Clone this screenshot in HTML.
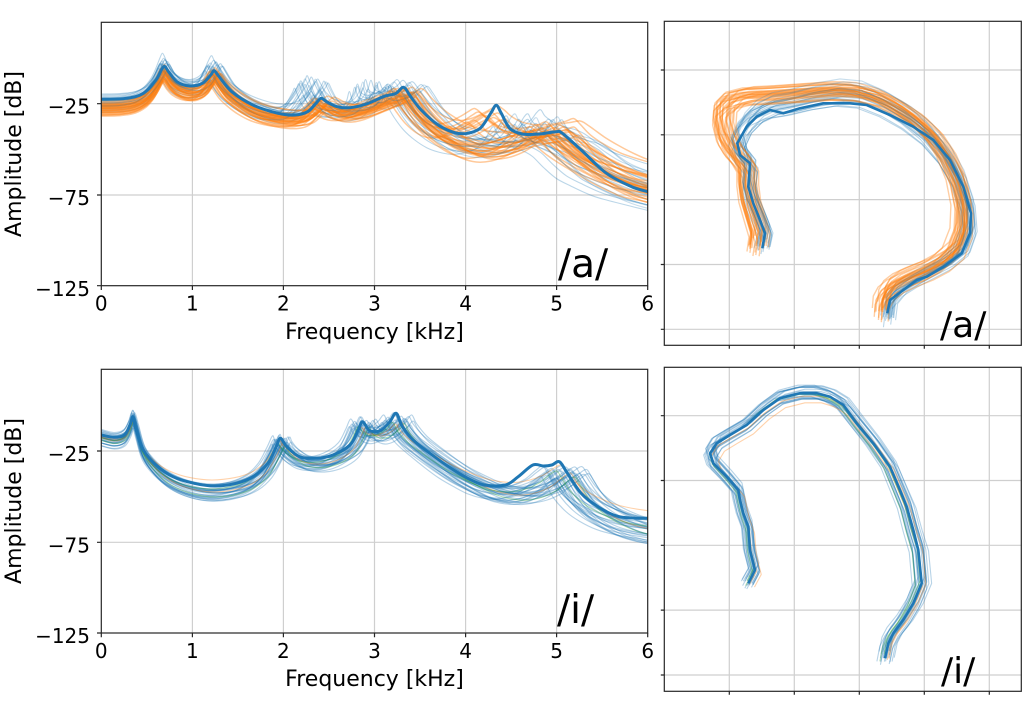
<!DOCTYPE html>
<html><head><meta charset="utf-8"><style>
html,body{margin:0;padding:0;background:#fff;}
svg{display:block;}
text{font-family:"DejaVu Sans","Liberation Sans",sans-serif;fill:#000;}
</style></head><body>
<svg width="1024" height="712" viewBox="0 0 1024 712" xmlns="http://www.w3.org/2000/svg">
<defs>
<clipPath id="cTL"><rect x="101.3" y="22.3" width="546.4" height="263.4"/></clipPath>
<clipPath id="cBL"><rect x="101.3" y="369.3" width="546.4" height="263.7"/></clipPath>
<clipPath id="cTR"><rect x="664.3" y="21.3" width="357" height="324"/></clipPath>
<clipPath id="cBR"><rect x="664.3" y="367.3" width="357" height="324"/></clipPath>
<path id="Oa" class="s" vector-effect="non-scaling-stroke" d="M101.3,103 L120,102.5 135,100 145,95 152,88 157,80 161,72 163.6,68.5 166,71 170,77 176,83 184,87 192,88.5 200,86.5 206,82 210,76 213.5,71.5 216,73 220,79 226,87 235,95 245,102 258,108.5 272,112.5 285,114.5 297,114.5 306,112 313,106 318,101 321,99 325,101 331,105 340,108 350,108.5 362,106 375,101 388,96 397,92.5 403,89 407,92 412,99 420,109 430,119 442,128 455,135 468,139 482,141 495,141 508,138 520,134 532,131 545,128.5 553,127 558,130 566,137 576,146 588,155 600,163 614,171 628,177 640,181 647.7,183 670,188 700,193"/>
<path id="Oa2" class="s" vector-effect="non-scaling-stroke" d="M101.3,103 L120,102.5 135,100 145,95 152,88 157,80 161,72 163.6,68.5 166,71 170,77 176,83 184,87 192,88.5 200,86.5 206,82 210,76 213.5,71.5 216,73 220,79 226,87 235,95 245,102 258,108.5 272,112.5 285,114.5 297,114.5 306,112 313,106 318,101 321,99 325,101 331,105 340,108 350,108.5 362,106 375,101 388,96 397,92.5 403,89 407,93 412,100 422,112 435,122 448,126 460,124 472,118 480,113 486,110 492,114 500,122 510,128 525,131 540,130 552,127 560,124 566,130 576,142 590,153 605,162 620,168 635,173 647.7,177 700,185"/>
<path id="Oa3" class="s" vector-effect="non-scaling-stroke" d="M101.3,103 L120,102.5 135,100 145,95 152,88 157,80 161,72 163.6,68.5 166,71 170,77 176,83 184,87 192,88.5 200,86.5 206,82 210,76 213.5,71.5 216,73 220,79 226,87 235,95 245,102 258,108.5 272,112.5 285,114.5 297,114.5 306,112 313,106 318,101 321,99 325,101 331,105 340,108 350,108.5 362,106 375,101 388,96 397,92.5 403,89 407,93 412,101 422,114 435,127 450,138 465,146 480,150 495,149 510,144 522,137 532,129 538,124 544,128 552,137 562,145 575,153 590,161 605,169 620,176 635,182 647.7,186 700,195"/>
<path id="Ba" class="s" vector-effect="non-scaling-stroke" d="M101.3,100 L120,99.5 135,97 145,92 152,85 157,77 161,69 163.6,65 166,68 170,75 176,81 184,85 192,86 200,84 206,79 210,72 213.5,67 216,70 220,77 226,86 235,94 245,101 258,107 272,111 285,111 295,106 303,96 309,87 311.5,83 315,90 320,99 328,106 340,109 352,108 362,103 368,94 371,86 375,95 385,97 396,92 403,86 408,92 413,100 420,110 430,121 442,130 455,137 468,141 482,143 495,142 508,138 518,130 524,121 528,118 532,125 540,132 550,137 560,140 570,145 582,155 596,165 612,172 630,179 647.7,184 700,195"/>
<path id="Bi" class="s" vector-effect="non-scaling-stroke" d="M101.3,436 L114,439 124,436 129.5,427 133,418 136.5,429 143,451 155,467 170,479 190,487 212,490 235,487 252,480 265,468 274,452 279.5,441 282,445 288,452 300,460 316,462 333,458 348,448 356,434 361,424 366,431 374,434 382,432 390,426 395.5,420 400,428 410,440 425,452 440,463 455,473 470,481 485,488 500,492 515,493 530,490 543,484 553,476 561,471 566,478 575,492 588,505 602,514 620,522 640,527 660,530 700,536"/>
<path id="Otr" vector-effect="non-scaling-stroke" d="M756,246 L758,232 753,215 748,198 746,182 746,168 740,158 733,150 726,138 722,122 723,108 732,99 748,95 770,94 800,92 830,90 855,91 878,97 898,107 918,121 935,138 948,158 958,182 963,207 962,230 954,250 940,262 925,270 910,276 897,282 888,289 883,298 882,310"/>
<path id="Btr" vector-effect="non-scaling-stroke" d="M763,247 L766,233 760,218 753,202 749,186 751,168 742,157 738,143 745,128 757,116 772,109 790,106 815,100 840,96 862,98 884,107 906,120 926,136 943,156 957,180 966,207 968,232 961,252 945,265 928,274 913,282 899,291 890,302 888,318"/>
<path id="Bbr" vector-effect="non-scaling-stroke" d="M748,583 L755,570 750,550 748,527 743,513 740,500 738,490 727,477 714,463 711,453 717,443 730,435 747,425 763,410 780,398 800,393 817,393 830,397 843,405 857,423 873,443 889,466 899,490 906,507 912,530 918,550 921,583 913,603 903,620 893,633 888,643 885,658"/>
</defs>

<rect x="0" y="0" width="1024" height="712" fill="#fff"/>

<!-- ============ GRIDS ============ -->
<g stroke="#cfcfcf" stroke-width="1.2" fill="none">
  <path d="M192.4,22.3V285.7 M283.4,22.3V285.7 M374.5,22.3V285.7 M465.6,22.3V285.7 M556.6,22.3V285.7 M101.3,103.7H647.7 M101.3,195H647.7"/>
  <path d="M192.4,369.3V633 M283.4,369.3V633 M374.5,369.3V633 M465.6,369.3V633 M556.6,369.3V633 M101.3,451H647.7 M101.3,542.3H647.7"/>
  <path d="M729.3,21.3V345.3 M794.3,21.3V345.3 M859.3,21.3V345.3 M924.3,21.3V345.3 M989.3,21.3V345.3 M664.3,70H1021.3 M664.3,134.8H1021.3 M664.3,199.6H1021.3 M664.3,264.5H1021.3 M664.3,329.3H1021.3"/>
  <path d="M729.3,367.3V691.3 M794.3,367.3V691.3 M859.3,367.3V691.3 M924.3,367.3V691.3 M989.3,367.3V691.3 M664.3,415.7H1021.3 M664.3,480.5H1021.3 M664.3,545.3H1021.3 M664.3,610.1H1021.3 M664.3,675H1021.3"/>
</g>

<!-- ============ TOP-LEFT DATA ============ -->
<g clip-path="url(#cTL)" fill="none" stroke-linejoin="round">
  <g stroke="#1f77b4" stroke-width="1.1" stroke-opacity="0.3">
    <use href="#Ba" transform="translate(101.3 98) scale(0.95 1.0) translate(-101.3 -100)"/>
    <use href="#Ba" transform="translate(101.3 104) scale(0.97 1.15) translate(-101.3 -100)"/>
    <use href="#Ba" transform="translate(101.3 108) scale(0.99 0.9) translate(-101.3 -100)"/>
    <use href="#Ba" transform="translate(101.3 95) scale(1.0 1.05) translate(-101.3 -100)"/>
    <use href="#Ba" transform="translate(101.3 102) scale(1.02 1.2) translate(-101.3 -100)"/>
    <use href="#Ba" transform="translate(101.3 106) scale(1.04 0.95) translate(-101.3 -100)"/>
    <use href="#Ba" transform="translate(101.3 100) scale(1.06 1.1) translate(-101.3 -100)"/>
    <use href="#Ba" transform="translate(101.3 110) scale(0.96 0.85) translate(-101.3 -100)"/>
    <use href="#Ba" transform="translate(101.3 112) scale(1.01 1.0) translate(-101.3 -100)"/>
    <use href="#Ba" transform="translate(101.3 97) scale(0.98 1.25) translate(-101.3 -100)"/>
    <use href="#Ba" transform="translate(101.3 94) scale(1.03 0.88) translate(-101.3 -100)"/>
    <use href="#Ba" transform="translate(101.3 109) scale(1.05 1.02) translate(-101.3 -100)"/>
    <use href="#Ba" transform="translate(101.3 103) scale(0.94 1.12) translate(-101.3 -100)"/>
    <use href="#Ba" transform="translate(101.3 105) scale(1.0 0.8) translate(-101.3 -100)"/>
    <use href="#Ba" transform="translate(101.3 101) scale(1.08 1.05) translate(-101.3 -100)"/>
    <use href="#Ba" transform="translate(101.3 107) scale(0.92 1.1) translate(-101.3 -100)"/>
  </g>
  <g stroke="#ff7f0e" stroke-width="1.5" stroke-opacity="0.42">
    <use href="#Oa" transform="translate(101.3 103) scale(0.97 1.0) translate(-101.3 -100)"/>
    <use href="#Oa" transform="translate(101.3 106) scale(0.99 1.08) translate(-101.3 -100)"/>
    <use href="#Oa" transform="translate(101.3 109) scale(1.0 0.95) translate(-101.3 -100)"/>
    <use href="#Oa" transform="translate(101.3 102) scale(1.01 1.12) translate(-101.3 -100)"/>
    <use href="#Oa" transform="translate(101.3 111) scale(1.02 1.0) translate(-101.3 -100)"/>
    <use href="#Oa" transform="translate(101.3 105) scale(1.03 0.92) translate(-101.3 -100)"/>
    <use href="#Oa" transform="translate(101.3 100) scale(0.98 1.05) translate(-101.3 -100)"/>
    <use href="#Oa" transform="translate(101.3 107) scale(1.0 1.15) translate(-101.3 -100)"/>
    <use href="#Oa" transform="translate(101.3 104) scale(1.04 1.04) translate(-101.3 -100)"/>
    <use href="#Oa" transform="translate(101.3 108) scale(0.96 0.9) translate(-101.3 -100)"/>
    <use href="#Oa2" transform="translate(101.3 102) scale(0.98 1.0) translate(-101.3 -100)"/>
    <use href="#Oa2" transform="translate(101.3 105) scale(1.0 1.08) translate(-101.3 -100)"/>
    <use href="#Oa2" transform="translate(101.3 108) scale(1.02 0.95) translate(-101.3 -100)"/>
    <use href="#Oa2" transform="translate(101.3 100) scale(1.01 1.12) translate(-101.3 -100)"/>
    <use href="#Oa2" transform="translate(101.3 110) scale(0.97 1.04) translate(-101.3 -100)"/>
    <use href="#Oa2" transform="translate(101.3 103) scale(1.03 1.0) translate(-101.3 -100)"/>
    <use href="#Oa2" transform="translate(101.3 106) scale(0.99 0.9) translate(-101.3 -100)"/>
    <use href="#Oa2" transform="translate(101.3 109) scale(1.04 1.1) translate(-101.3 -100)"/>
    <use href="#Oa2" transform="translate(101.3 97) scale(1.03 0.9) translate(-101.3 -100)"/>
    <use href="#Oa2" transform="translate(101.3 99) scale(0.97 0.95) translate(-101.3 -100)"/>
    <use href="#Oa" transform="translate(101.3 98) scale(1.06 0.85) translate(-101.3 -100)"/>
    <use href="#Oa3" transform="translate(101.3 104) scale(0.98 0.95) translate(-101.3 -100)"/>
    <use href="#Oa3" transform="translate(101.3 101) scale(1.0 1.05) translate(-101.3 -100)"/>
    <use href="#Oa3" transform="translate(101.3 107) scale(1.02 1.0) translate(-101.3 -100)"/>
    <use href="#Oa3" transform="translate(101.3 103) scale(0.96 1.1) translate(-101.3 -100)"/>
    <use href="#Oa3" transform="translate(101.3 110) scale(1.01 0.9) translate(-101.3 -100)"/>
    <use href="#Oa3" transform="translate(101.3 105) scale(1.03 1.08) translate(-101.3 -100)"/>
    <use href="#Oa3" transform="translate(101.3 112) scale(0.99 1.0) translate(-101.3 -100)"/>
    <use href="#Oa3" transform="translate(101.3 102) scale(1.05 0.97) translate(-101.3 -100)"/>
    <use href="#Oa" transform="translate(101.3 113) scale(1.01 1.06) translate(-101.3 -100)"/>
    <use href="#Oa2" transform="translate(101.3 112) scale(0.95 1.0) translate(-101.3 -100)"/>
  </g>
  <g stroke="#1f77b4" stroke-width="1.1" stroke-opacity="0.25">
    <use href="#Ba" transform="translate(101.3 96) scale(0.97 1.0) translate(-101.3 -100)"/>
    <use href="#Ba" transform="translate(101.3 98) scale(1.02 1.1) translate(-101.3 -100)"/>
    <use href="#Ba" transform="translate(101.3 103) scale(1.05 0.9) translate(-101.3 -100)"/>
    <use href="#Ba" transform="translate(101.3 106) scale(0.99 1.2) translate(-101.3 -100)"/>
    <use href="#Ba" transform="translate(101.3 99) scale(1.07 1.0) translate(-101.3 -100)"/>
    <use href="#Ba" transform="translate(101.3 101) scale(0.95 1.05) translate(-101.3 -100)"/>
  </g>
  <path class="s" fill="none" stroke="#1f77b4" stroke-width="3" d="M101.3,99.3 L126.6,98.3 143.4,93.3 156,80 163.6,66.7 168.6,71.7 177,81.7 189.7,86 202.3,83.3 210.8,75 214.1,70.7 219.2,76.7 231.8,91.7 252.9,105 278.1,113.3 295,115 307.6,111.7 316,103.3 321.1,98.3 326.5,101.7 337.1,106.7 349.7,107.7 366.5,104 383.4,96.7 396,93.3 403.6,87.3 410.7,96.7 421.2,110 438.1,125 454.9,132.7 467.5,133.3 480.2,128.3 490.7,113.3 496.2,105.3 501.3,113.3 509.7,128.3 522.3,134 539.2,134 556,131.7 562.3,133.3 581.2,150 606.5,173.3 631.7,186.7 647.7,191.7"/>
</g>

<!-- ============ BOTTOM-LEFT DATA ============ -->
<g clip-path="url(#cBL)" fill="none" stroke-linejoin="round">
  <g stroke="#1f77b4" stroke-width="1.15" stroke-opacity="0.32">
    <use href="#Bi" transform="translate(101.3 450) scale(1.0 1.0) translate(-101.3 -450)"/>
    <use href="#Bi" transform="translate(101.3 453) scale(0.97 1.05) translate(-101.3 -450)"/>
    <use href="#Bi" transform="translate(101.3 447) scale(1.03 0.95) translate(-101.3 -450)"/>
    <use href="#Bi" transform="translate(101.3 455) scale(0.99 1.1) translate(-101.3 -450)"/>
    <use href="#Bi" transform="translate(101.3 448) scale(1.01 0.9) translate(-101.3 -450)"/>
    <use href="#Bi" transform="translate(101.3 452) scale(1.04 1.02) translate(-101.3 -450)"/>
    <use href="#Bi" transform="translate(101.3 445) scale(0.96 1.0) translate(-101.3 -450)"/>
    <use href="#Bi" transform="translate(101.3 458) scale(1.02 1.08) translate(-101.3 -450)"/>
    <use href="#Bi" transform="translate(101.3 450) scale(0.98 0.88) translate(-101.3 -450)"/>
    <use href="#Bi" transform="translate(101.3 454) scale(1.05 0.97) translate(-101.3 -450)"/>
    <use href="#Bi" transform="translate(101.3 446) scale(0.995 1.12) translate(-101.3 -450)"/>
    <use href="#Bi" transform="translate(101.3 456) scale(1.015 0.93) translate(-101.3 -450)"/>
    <use href="#Bi" transform="translate(101.3 449) scale(0.975 1.06) translate(-101.3 -450)"/>
    <use href="#Bi" transform="translate(101.3 451) scale(1.025 1.0) translate(-101.3 -450)"/>
    <use href="#Bi" transform="translate(101.3 444) scale(1.0 1.04) translate(-101.3 -450)"/>
    <use href="#Bi" transform="translate(101.3 459) scale(0.985 0.96) translate(-101.3 -450)"/>
    <use href="#Bi" transform="translate(101.3 452) scale(1.035 1.1) translate(-101.3 -450)"/>
    <use href="#Bi" transform="translate(101.3 448) scale(0.965 0.92) translate(-101.3 -450)"/>
    <use href="#Bi" transform="translate(101.3 453) scale(1.01 1.15) translate(-101.3 -450)"/>
    <use href="#Bi" transform="translate(101.3 446) scale(1.045 0.98) translate(-101.3 -450)"/>
    <use href="#Bi" transform="translate(101.3 457) scale(0.99 1.0) translate(-101.3 -450)"/>
    <use href="#Bi" transform="translate(101.3 450) scale(1.02 0.9) translate(-101.3 -450)"/>
    <use href="#Bi" transform="translate(101.3 454) scale(0.955 1.05) translate(-101.3 -450)"/>
    <use href="#Bi" transform="translate(101.3 447) scale(1.055 1.07) translate(-101.3 -450)"/>
    <use href="#Bi" transform="translate(101.3 451) scale(1.0 1.18) translate(-101.3 -450)"/>
    <use href="#Bi" transform="translate(101.3 455) scale(1.03 0.86) translate(-101.3 -450)"/>
    <use href="#Bi" transform="translate(101.3 449) scale(0.98 1.0) translate(-101.3 -450)"/>
    <use href="#Bi" transform="translate(101.3 452) scale(1.06 1.03) translate(-101.3 -450)"/>
    <use href="#Bi" transform="translate(101.3 456) scale(1.0 1.12) translate(-101.3 -450)"/>
    <use href="#Bi" transform="translate(101.3 448) scale(1.02 1.06) translate(-101.3 -450)"/>
    <use href="#Bi" transform="translate(101.3 453) scale(0.97 0.94) translate(-101.3 -450)"/>
    <use href="#Bi" transform="translate(101.3 460) scale(1.04 1.0) translate(-101.3 -450)"/>
  </g>
  <g stroke="#ff7f0e" stroke-width="1.1" stroke-opacity="0.35">
    <use href="#Bi" transform="translate(101.3 448) scale(1.0 0.8) translate(-101.3 -450)"/>
    <use href="#Bi" transform="translate(101.3 452) scale(1.02 1.0) translate(-101.3 -450)"/>
  </g>
  <g stroke="#2ca02c" stroke-width="1.1" stroke-opacity="0.35">
    <use href="#Bi" transform="translate(101.3 451) scale(0.99 0.95) translate(-101.3 -450)"/>
    <use href="#Bi" transform="translate(101.3 455) scale(1.03 1.05) translate(-101.3 -450)"/>
  </g>
  <path class="s" fill="none" stroke="#1f77b4" stroke-width="3" d="M101.3,435 L113.9,437.3 124.5,435 130,425 133,416.7 135.8,428.3 143.4,450 156,465 172.9,476.7 194,483.3 215,486 236.2,483.3 253,476.7 267.8,463.3 276.2,446.7 280.4,438.3 286.7,446.7 299.4,456.7 316.2,458.3 333,455 349.9,445 358.3,430 362.5,421.7 368.8,430 375.1,431.7 381.5,430 389.9,421.7 396.2,413.3 402.5,426.7 413.1,440 429.9,453.3 451,468.3 467.8,478.3 484.4,485 505.5,485 518.2,476.7 532.9,465 543.4,466 551.8,465 559.4,461.7 566.5,471.7 581.2,493.3 598,506.7 619.1,516.7 647.7,518.3"/>
</g>

<!-- ============ TOP-RIGHT DATA ============ -->
<g clip-path="url(#cTR)" fill="none" stroke-linejoin="round">
  <g stroke="#1f77b4" stroke-width="1.1" stroke-opacity="0.3">
    <use href="#Btr" transform="translate(860 180) scale(1.0 1.0) translate(-860 -180)"/>
    <use href="#Btr" transform="translate(863 184) scale(0.97 0.98) translate(-860 -180)"/>
    <use href="#Btr" transform="translate(857 176) scale(1.03 1.02) translate(-860 -180)"/>
    <use href="#Btr" transform="translate(864 175) scale(1.02 0.97) translate(-860 -180)"/>
    <use href="#Btr" transform="translate(856 185) scale(0.98 1.03) translate(-860 -180)"/>
    <use href="#Btr" transform="translate(860 177) scale(1.04 1.04) translate(-860 -180)"/>
    <use href="#Btr" transform="translate(862 183) scale(0.96 0.96) translate(-860 -180)"/>
    <use href="#Btr" transform="translate(865 173) scale(1.0 1.05) translate(-860 -180)"/>
    <use href="#Btr" transform="translate(855 186) scale(1.01 0.95) translate(-860 -180)"/>
    <use href="#Btr" transform="translate(866 180) scale(0.99 1.0) translate(-860 -180)"/>
    <use href="#Btr" transform="translate(854 182) scale(1.03 0.99) translate(-860 -180)"/>
    <use href="#Btr" transform="translate(860 174) scale(0.97 1.02) translate(-860 -180)"/>
    <use href="#Btr" transform="translate(862 179) scale(1.05 1.0) translate(-860 -180)"/>
    <use href="#Btr" transform="translate(858 187) scale(0.98 0.97) translate(-860 -180)"/>
    <use href="#Btr" transform="translate(867 178) scale(1.02 1.03) translate(-860 -180)"/>
    <use href="#Btr" transform="translate(853 176) scale(0.99 1.01) translate(-860 -180)"/>
    <use href="#Btr" transform="translate(861 181) scale(1.06 1.04) translate(-860 -180)"/>
    <use href="#Btr" transform="translate(859 172) scale(0.95 1.0) translate(-860 -180)"/>
  </g>
  <g stroke="#ff7f0e" stroke-width="1.4" stroke-opacity="0.38">
    <use href="#Otr" transform="translate(860 170) scale(1 1) translate(-860 -170)"/>
    <use href="#Otr" transform="translate(864 174) scale(0.97 0.97) translate(-860 -170)"/>
    <use href="#Otr" transform="translate(856 167) scale(1.03 1.03) translate(-860 -170)"/>
    <use href="#Otr" transform="translate(863 165) scale(1.02 0.98) translate(-860 -170)"/>
    <use href="#Otr" transform="translate(857 175) scale(0.98 1.02) translate(-860 -170)"/>
    <use href="#Otr" transform="translate(860 172) scale(1.04 1.0) translate(-860 -170)"/>
    <use href="#Otr" transform="translate(866 170) scale(0.96 1.0) translate(-860 -170)"/>
    <use href="#Otr" transform="translate(854 166) scale(1.0 1.04) translate(-860 -170)"/>
    <use href="#Otr" transform="translate(864 177) scale(1.01 0.96) translate(-860 -170)"/>
    <use href="#Otr" transform="translate(853 171) scale(0.99 1.01) translate(-860 -170)"/>
    <use href="#Otr" transform="translate(862 162) scale(1.03 0.97) translate(-860 -170)"/>
    <use href="#Otr" transform="translate(860 178) scale(0.97 1.03) translate(-860 -170)"/>
    <use href="#Otr" transform="translate(858 169) scale(1.05 1.02) translate(-860 -170)"/>
    <use href="#Otr" transform="translate(867 173) scale(0.95 0.98) translate(-860 -170)"/>
    <use href="#Otr" transform="translate(856 173) scale(1.02 1.05) translate(-860 -170)"/>
    <use href="#Otr" transform="translate(862 167) scale(0.98 0.95) translate(-860 -170)"/>
    <use href="#Otr" transform="translate(868 166) scale(1.0 0.98) translate(-860 -170)"/>
    <use href="#Otr" transform="translate(852 174) scale(1.01 1.02) translate(-860 -170)"/>
    <use href="#Otr" transform="translate(861 164) scale(0.96 1.03) translate(-860 -170)"/>
    <use href="#Otr" transform="translate(858 176) scale(1.04 0.96) translate(-860 -170)"/>
    <use href="#Otr" transform="translate(864 169) scale(1.0 1.0) translate(-860 -170)"/>
    <use href="#Otr" transform="translate(856 163) scale(0.99 0.99) translate(-860 -170)"/>
    <use href="#Otr" transform="translate(859 180) scale(1.02 1.0) translate(-860 -170)"/>
    <use href="#Otr" transform="translate(865 176) scale(1.05 1.04) translate(-860 -170)"/>
    <use href="#Otr" transform="translate(851 168) scale(0.97 1.0) translate(-860 -170)"/>
    <use href="#Otr" transform="translate(862 172) scale(0.94 0.97) translate(-860 -170)"/>
  </g>
  <g stroke="#1f77b4" stroke-width="1.1" stroke-opacity="0.25">
    <use href="#Btr" transform="translate(861 181) scale(1.01 1.0) translate(-860 -180)"/>
    <use href="#Btr" transform="translate(858 178) scale(1.03 1.02) translate(-860 -180)"/>
    <use href="#Btr" transform="translate(863 183) scale(0.99 0.98) translate(-860 -180)"/>
    <use href="#Btr" transform="translate(859 176) scale(1.05 1.04) translate(-860 -180)"/>
    <use href="#Btr" transform="translate(860 168) scale(1.0 1.06) translate(-860 -180)"/>
    <use href="#Btr" transform="translate(864 170) scale(1.03 1.05) translate(-860 -180)"/>
    <use href="#Btr" transform="translate(857 171) scale(0.98 1.04) translate(-860 -180)"/>
  </g>
  <path fill="none" stroke="#1f77b4" stroke-width="2.6" d="M762.3,248.3 L765,233.3 760,220 753.3,203.3 748.3,186.7 750,163.3 740,155 737.3,143.3 746.7,126.7 756.7,116.7 770,110 783.3,113.3 800,108.3 823.3,103.3 850,103.3 866.7,105 890,115 913.3,126.7 933.3,140 950,160 963.3,186.7 971,213.3 970,233.3 961.7,253.3 943.3,266.7 926.7,276.7 916.7,280 903.3,290 890,300 887.3,313.3"/>
</g>

<!-- ============ BOTTOM-RIGHT DATA ============ -->
<g clip-path="url(#cBR)" fill="none" stroke-linejoin="round">
  <g stroke="#1f77b4" stroke-width="1.1" stroke-opacity="0.32">
    <use href="#Bbr" transform="translate(830 520) scale(1 1) translate(-830 -520)"/>
    <use href="#Bbr" transform="translate(833 523) scale(0.98 0.98) translate(-830 -520)"/>
    <use href="#Bbr" transform="translate(827 517) scale(1.02 1.02) translate(-830 -520)"/>
    <use href="#Bbr" transform="translate(834 516) scale(1.01 0.98) translate(-830 -520)"/>
    <use href="#Bbr" transform="translate(826 524) scale(0.99 1.02) translate(-830 -520)"/>
    <use href="#Bbr" transform="translate(830 515) scale(1.03 1.01) translate(-830 -520)"/>
    <use href="#Bbr" transform="translate(831 525) scale(0.97 0.99) translate(-830 -520)"/>
    <use href="#Bbr" transform="translate(835 520) scale(1.0 1.03) translate(-830 -520)"/>
    <use href="#Bbr" transform="translate(825 520) scale(1.02 0.97) translate(-830 -520)"/>
    <use href="#Bbr" transform="translate(829 514) scale(0.98 1.0) translate(-830 -520)"/>
    <use href="#Bbr" transform="translate(832 526) scale(1.04 1.0) translate(-830 -520)"/>
    <use href="#Bbr" transform="translate(828 521) scale(0.96 1.02) translate(-830 -520)"/>
    <use href="#Bbr" transform="translate(836 518) scale(1.02 1.04) translate(-830 -520)"/>
    <use href="#Bbr" transform="translate(824 519) scale(1.0 0.96) translate(-830 -520)"/>
    <use href="#Bbr" transform="translate(831 517) scale(1.05 1.02) translate(-830 -520)"/>
    <use href="#Bbr" transform="translate(829 523) scale(0.99 0.98) translate(-830 -520)"/>
    <use href="#Bbr" transform="translate(833 521) scale(1.03 0.97) translate(-830 -520)"/>
    <use href="#Bbr" transform="translate(827 516) scale(0.97 1.03) translate(-830 -520)"/>
    <use href="#Bbr" transform="translate(830 522) scale(1.01 1.01) translate(-830 -520)"/>
    <use href="#Bbr" transform="translate(837 521) scale(1.04 0.99) translate(-830 -520)"/>
    <use href="#Bbr" transform="translate(823 522) scale(0.98 1.01) translate(-830 -520)"/>
    <use href="#Bbr" transform="translate(834 513) scale(1.0 1.0) translate(-830 -520)"/>
  </g>
  <g stroke="#ff7f0e" stroke-width="1.1" stroke-opacity="0.35">
    <use href="#Bbr" transform="translate(834 526) scale(0.97 0.97) translate(-830 -520)"/>
    <use href="#Bbr" transform="translate(833 522) scale(1.02 0.99) translate(-830 -520)"/>
  </g>
  <g stroke="#2ca02c" stroke-width="1.1" stroke-opacity="0.35">
    <use href="#Bbr" transform="translate(826 522) scale(0.98 1.01) translate(-830 -520)"/>
    <use href="#Bbr" transform="translate(829 519) scale(1.0 0.98) translate(-830 -520)"/>
  </g>
  <path fill="none" stroke="#1f77b4" stroke-width="2.6" d="M748.3,583.3 L755,570 750,550 748.3,526.7 743.3,513.3 740,500 738.3,490 726.7,476.7 713.3,463.3 710,453.3 716.7,443.3 730,435 746.7,425 763.3,410 780,398.3 800,393.3 816.7,393.3 830,396.7 843.3,405 856.7,423.3 873.3,443.3 890,466.7 900,490 906.7,506.7 913.3,530 918.3,550 921.7,583.3 913.3,603.3 903.3,620 893.3,633.3 888.3,643.3 885,658.3"/>
</g>

<!-- ============ FRAMES & TICKS ============ -->
<g fill="none" stroke="#262626" stroke-width="1.2">
  <rect x="101.3" y="22.3" width="546.4" height="263.4"/>
  <rect x="101.3" y="369.3" width="546.4" height="263.7"/>
  <rect x="664.3" y="21.3" width="357" height="324"/>
  <rect x="664.3" y="367.3" width="357" height="324"/>
  <path d="M97,103.7H101.3 M97,195H101.3 M97,285.7H101.3 M101.3,285.7V290 M192.4,285.7V290 M283.4,285.7V290 M374.5,285.7V290 M465.6,285.7V290 M556.6,285.7V290 M647.7,285.7V290"/>
  <path d="M97,451H101.3 M97,542.3H101.3 M97,633H101.3 M101.3,633V637.3 M192.4,633V637.3 M283.4,633V637.3 M374.5,633V637.3 M465.6,633V637.3 M556.6,633V637.3 M647.7,633V637.3"/>
  <path d="M660.8,70H664.3 M660.8,134.8H664.3 M660.8,199.6H664.3 M660.8,264.5H664.3 M660.8,329.3H664.3 M729.3,345.3V348.8 M794.3,345.3V348.8 M859.3,345.3V348.8 M924.3,345.3V348.8 M989.3,345.3V348.8"/>
  <path d="M660.8,415.7H664.3 M660.8,480.5H664.3 M660.8,545.3H664.3 M660.8,610.1H664.3 M660.8,675H664.3 M729.3,691.3V694.8 M794.3,691.3V694.8 M859.3,691.3V694.8 M924.3,691.3V694.8 M989.3,691.3V694.8"/>
</g>

<!-- ============ TEXT ============ -->
<g font-size="20" text-anchor="end">
  <text x="90" y="113.7">−25</text>
  <text x="90" y="205">−75</text>
  <text x="90" y="296">−125</text>
  <text x="90" y="461">−25</text>
  <text x="90" y="552.3">−75</text>
  <text x="90" y="643">−125</text>
</g>
<g font-size="20" text-anchor="middle">
  <text x="101.3" y="310.7">0</text>
  <text x="192.4" y="310.7">1</text>
  <text x="283.4" y="310.7">2</text>
  <text x="374.5" y="310.7">3</text>
  <text x="465.6" y="310.7">4</text>
  <text x="556.6" y="310.7">5</text>
  <text x="647.7" y="310.7">6</text>
  <text x="101.3" y="658">0</text>
  <text x="192.4" y="658">1</text>
  <text x="283.4" y="658">2</text>
  <text x="374.5" y="658">3</text>
  <text x="465.6" y="658">4</text>
  <text x="556.6" y="658">5</text>
  <text x="647.7" y="658">6</text>
</g>
<g font-size="22" text-anchor="middle">
  <text x="374.5" y="339">Frequency [kHz]</text>
  <text x="374.5" y="686">Frequency [kHz]</text>
  <text transform="translate(21 154) rotate(-90)">Amplitude [dB]</text>
  <text transform="translate(21 501) rotate(-90)">Amplitude [dB]</text>
</g>
<text x="558" y="277" font-size="39">/a/</text>
<text x="557" y="623" font-size="39">/i/</text>
<text x="940" y="337" font-size="36">/a/</text>
<text x="941" y="683" font-size="36">/i/</text>
</svg>
<script>
(function(){
  var ps=document.querySelectorAll('path.s');
  for(var k=0;k<ps.length;k++){
    var p=ps[k];
    var n=p.getAttribute('d').match(/-?[\d.]+/g).map(Number);
    var a=[];
    for(var i=0;i+1<n.length;i+=2)a.push([n[i],n[i+1]]);
    var d='M'+a[0][0]+','+a[0][1];
    for(var j=0;j<a.length-1;j++){
      var p0=a[j>0?j-1:0],p1=a[j],p2=a[j+1],p3=a[j+2<a.length?j+2:j+1];
      var c1x=p1[0]+(p2[0]-p0[0])/6,c1y=p1[1]+(p2[1]-p0[1])/6;
      var c2x=p2[0]-(p3[0]-p1[0])/6,c2y=p2[1]-(p3[1]-p1[1])/6;
      d+=' C'+c1x.toFixed(2)+','+c1y.toFixed(2)+' '+c2x.toFixed(2)+','+c2y.toFixed(2)+' '+p2[0]+','+p2[1];
    }
    p.setAttribute('d',d);
  }
})();
</script>
</body></html>
